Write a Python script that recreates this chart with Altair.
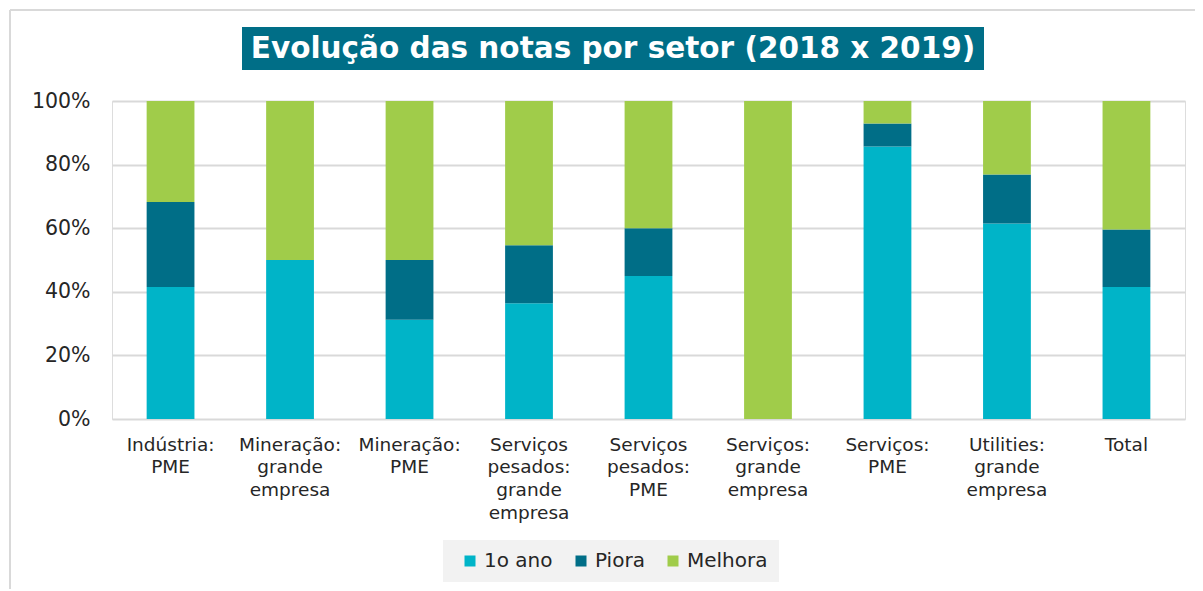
import altair as alt
import pandas as pd

categories = [
    "Indústria:\nPME",
    "Mineração:\ngrande\nempresa",
    "Mineração:\nPME",
    "Serviços\npesados:\ngrande\nempresa",
    "Serviços\npesados:\nPME",
    "Serviços:\ngrande\nempresa",
    "Serviços:\nPME",
    "Utilities:\ngrande\nempresa",
    "Total",
]
series_names = ["1o ano", "Piora", "Melhora"]
primeiro_ano = [41.5, 50.0, 31.25, 36.4, 45.0, 0.0, 85.7, 61.5, 41.5]
piora = [26.7, 0.0, 18.75, 18.2, 15.0, 0.0, 7.2, 15.4, 18.1]
melhora = [31.8, 50.0, 50.0, 45.4, 40.0, 100.0, 7.1, 23.1, 40.4]
colors = ["#00B4C8", "#006E87", "#A0CC4A"]
title_text = "Evolução das notas por setor (2018 x 2019)"

rows = []
for i, c in enumerate(categories):
    for k, (name, vals) in enumerate(zip(series_names, [primeiro_ano, piora, melhora])):
        rows.append({"setor": c, "serie": name, "valor": vals[i], "ordem": k})
df = pd.DataFrame(rows)

W, H = 1073, 318
FONT = "DejaVu Sans"

bars = alt.Chart(df).mark_bar().encode(
    x=alt.X("setor:N", sort=categories, title=None,
            scale=alt.Scale(paddingInner=0.6, paddingOuter=0.29),
            axis=alt.Axis(labelExpr="split(datum.label, '\\n')", labelAngle=0,
                          labelFontSize=18.5, labelLineHeight=22.7, labelPadding=16,
                          labelColor="#262626", labelFont=FONT, ticks=False,
                          domain=False, grid=False, labelBaseline="top")),
    y=alt.Y("valor:Q", stack="zero", title=None,
            scale=alt.Scale(domain=[0, 100], nice=False),
            axis=alt.Axis(values=[0, 20, 40, 60, 80, 100], labelExpr="datum.value + '%'",
                          labelFontSize=20.5, labelPadding=22, labelColor="#262626",
                          labelFont=FONT, ticks=False, domain=False,
                          gridColor="#D9D9D9", gridWidth=2)),
    color=alt.Color("serie:N", sort=series_names,
                    scale=alt.Scale(domain=series_names, range=colors),
                    legend=alt.Legend(title=None, orient="none", legendX=331, legendY=439,
                                      direction="horizontal", fillColor="#F2F2F2",
                                      padding=11, symbolType="square", symbolSize=121,
                                      symbolStrokeWidth=0, labelFontSize=20,
                                      labelFont=FONT, labelColor="#262626",
                                      columnPadding=12, symbolOffset=6, labelOffset=4)),
    order=alt.Order("ordem:Q"),
)

title_box = alt.Chart(pd.DataFrame({"t": [title_text]})).mark_rect(
    color="#006E87", clip=False
).encode(x=alt.value(130), x2=alt.value(872), y=alt.value(-74), y2=alt.value(-31))

title_txt = alt.Chart(pd.DataFrame({"t": [title_text]})).mark_text(
    color="white", font=FONT, fontWeight="bold", fontSize=29.5, align="center",
    baseline="middle", clip=False
).encode(x=alt.value(501), y=alt.value(-52), text="t:N")

border_top = alt.Chart(pd.DataFrame({"t": [1]})).mark_rule(
    color="#D9D9D9", strokeWidth=2, clip=False
).encode(x=alt.value(-102), x2=alt.value(1120), y=alt.value(-91))

border_left = alt.Chart(pd.DataFrame({"t": [1]})).mark_rule(
    color="#D9D9D9", strokeWidth=2, clip=False
).encode(x=alt.value(-102), y=alt.value(-91), y2=alt.value(520))

chart = alt.layer(border_top, border_left, bars, title_box, title_txt).properties(
    width=W, height=H,
    autosize=alt.AutoSizeParams(type="none"),
    padding={"left": 104, "top": 93, "right": 10, "bottom": 170},
).configure_view(stroke=None).configure(background="white")

chart.save("out.html", embed_options={"renderer": "svg", "actions": False})
